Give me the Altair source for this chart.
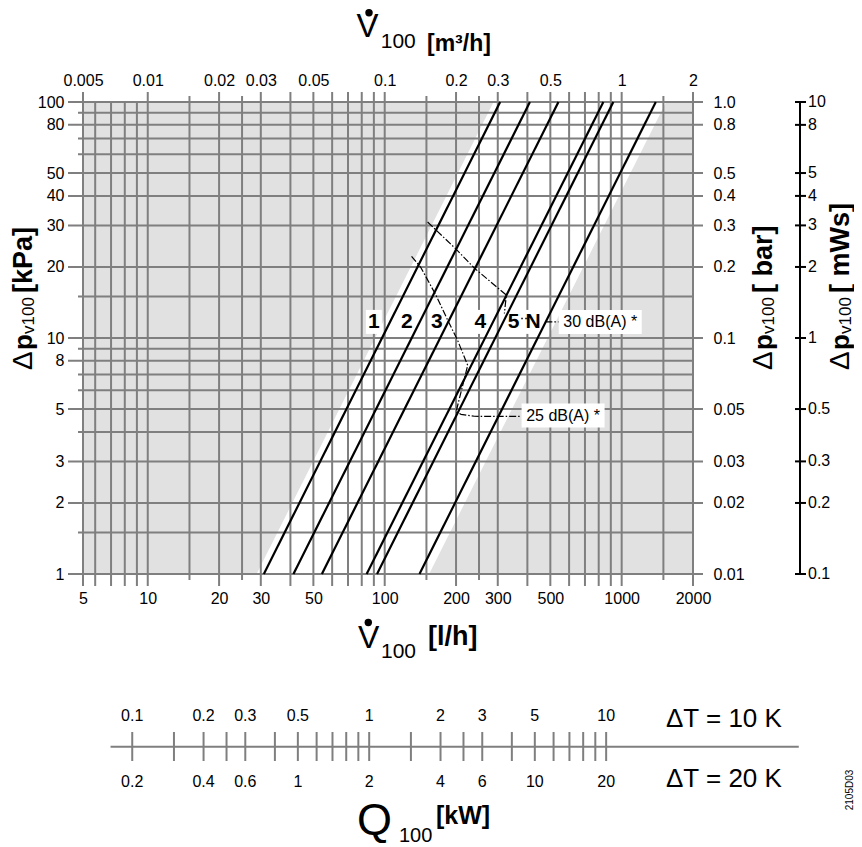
import math
import altair as alt
import pandas as pd

# ------------------------------------------------------------------ data
X_MIN, X_MAX = 5.33, 2000          # flow axis range in l/h (left edge of the grid)
Y_MIN, Y_MAX = 1, 100              # pressure axis range in kPa
X_GRID = [X_MIN, 6, 7, 8, 9, 10, 15, 20, 25, 30, 40, 50, 60, 70, 80, 90, 100,
          150, 200, 250, 300, 400, 500, 600, 700, 800, 900, 1000, 1500, 2000]
Y_GRID = [1, 1.5, 2, 3, 4, 5, 6, 7, 8, 9, 10, 15, 20, 30, 40, 50, 60, 70, 80, 90, 100]
X_LABELS = [X_MIN, 10, 20, 30, 50, 100, 200, 300, 500, 1000, 2000]
Y_LABELS_KPA = [1, 2, 3, 5, 8, 10, 20, 30, 40, 50, 80, 100]
Y_LABELS_BAR = [1, 2, 3, 5, 10, 20, 30, 40, 50, 80, 100]
MWS_TICKS = [0.1, 0.2, 0.3, 0.5, 1, 2, 3, 4, 5, 8, 10]

LINE_NAMES = ["1", "2", "3", "4", "5", "N"]
V_AT_1KPA = [30.9, 41.2, 54.3, 83.9, 92.8, 140.2]
V_AT_100KPA = [307, 410, 541, 837, 922, 1393]
LABEL_V = [90, 124, 166, 253, 350, 423]
LABEL_DP = [11.7, 11.7, 11.7, 11.7, 11.7, 11.7]

BAND_DP = [1, 100]
BAND_LEFT_V = [28.8, 288]
BAND_RIGHT_V = [154, 1540]

NOISE30_V = [151.7, 200, 240, 326, 320]
NOISE30_DP = [31.0, 23.8, 19.7, 15.2, 12.7]
NOISE25_V = [129.8, 142, 164.5, 184.4, 203, 224, 200, 210, 239, 377]
NOISE25_DP = [22.2, 19.9, 15.2, 11.9, 9.78, 7.66, 4.86, 4.75, 4.66, 4.65]
LEADER_DOT_V = [377, 400]
LEADER_DOT_DP = [12.1, 12.1]
LEADER_DASH_V = [481, 541]
LEADER_DASH_DP = [11.7, 11.7]

DB_TEXT = ["30 dB(A) *", "25 dB(A) *"]
DB_V = [812, 566]
DB_DP = [11.7, 4.69]

Q10_TICKS = [0.1, 0.15, 0.2, 0.25, 0.3, 0.4, 0.5, 0.6, 0.7, 0.8, 0.9, 1,
             1.5, 2, 2.5, 3, 4, 5, 6, 7, 8, 9, 10]
Q10_LABELS = [0.1, 0.2, 0.3, 0.5, 1, 2, 3, 5, 10]
Q20_LABELS = [0.2, 0.4, 0.6, 1, 2, 4, 6, 10, 20]
Q_LINE = [0.081, 65]
LH_PER_KW_10K = 86   # l/h of water per kW at dT = 10 K
LH_PER_KW_20K = 43   # l/h of water per kW at dT = 20 K

# ------------------------------------------------------------------ layout / style
FONT = "Liberation Sans"
GRID = "#7f7f7f"
BG = "#e1e1e1"
W, H = 610, 472
PAD_L, PAD_T = 75, 94
OX, OY = 8 + PAD_L, 8 + PAD_T


def px(xp):
    return xp - OX


def py(yp):
    return yp - OY


xs = alt.Scale(type="log", domain=[X_MIN, X_MAX], nice=False)
ys = alt.Scale(type="log", domain=[Y_MIN, Y_MAX], nice=False)


def X(f, axis=None):
    return alt.X(f, scale=xs, axis=axis)


def Y(f, axis=None):
    return alt.Y(f, scale=ys, axis=axis)


one = pd.DataFrame({"a": [0]})
layers = []

# background and white operating band
layers.append(alt.Chart(pd.DataFrame({"x0": [X_MIN], "x1": [X_MAX], "y0": [Y_MIN], "y1": [Y_MAX]}))
              .mark_rect(color=BG).encode(x=X("x0:Q"), x2="x1:Q", y=Y("y0:Q"), y2="y1:Q"))
layers.append(alt.Chart(pd.DataFrame({"p": BAND_DP, "vl": BAND_LEFT_V, "vr": BAND_RIGHT_V}))
              .mark_area(color="white", orient="horizontal", opacity=1)
              .encode(y=Y("p:Q"), x=X("vl:Q"), x2="vr:Q"))


def mant(v):
    return round(v / 10 ** math.floor(math.log10(v)), 3)


# vertical grid lines (extend past the frame as ticks)
half = [v for v in X_GRID if mant(v) in (1.5, 2.5)]
small = [v for v in X_GRID if 6 <= v < 10]
major = [v for v in X_GRID if v not in half and v not in small]
for vals, top, bot in ((major, 10, 12), (half, 6, 6), (small, 0, 12)):
    layers.append(alt.Chart(pd.DataFrame({"v": vals}))
                  .mark_rule(color=GRID, strokeWidth=2, clip=False)
                  .encode(x=X("v:Q"), y=alt.value(-top), y2=alt.value(H + bot)))

# horizontal grid lines
both = [v for v in Y_GRID if v in Y_LABELS_KPA and v in Y_LABELS_BAR]
lonly = [v for v in Y_GRID if v in Y_LABELS_KPA and v not in Y_LABELS_BAR]
none = [v for v in Y_GRID if v not in Y_LABELS_KPA and v not in Y_LABELS_BAR]
for vals, left, right in ((both, 15, 10), (lonly, 15, 0), (none, 5, 0)):
    layers.append(alt.Chart(pd.DataFrame({"p": vals}))
                  .mark_rule(color=GRID, strokeWidth=2, clip=False)
                  .encode(y=Y("p:Q"), x=alt.value(-left), x2=alt.value(W + right)))

# label boxes
lab_df = pd.DataFrame({"name": LINE_NAMES, "v": LABEL_V, "p": LABEL_DP})
layers.append(alt.Chart(lab_df).mark_rect(color="white", width=16, height=24)
              .encode(x=X("v:Q"), y=Y("p:Q")))
db_df = pd.DataFrame({"t": DB_TEXT, "v": DB_V, "p": DB_DP})
layers.append(alt.Chart(db_df).mark_rect(color="white", width=83, height=24)
              .encode(x=X("v:Q"), y=Y("p:Q")))

# valve characteristic lines
lines_df = pd.DataFrame({"name": LINE_NAMES * 2, "v": V_AT_1KPA + V_AT_100KPA,
                         "p": [Y_MIN] * 6 + [Y_MAX] * 6})
layers.append(alt.Chart(lines_df).mark_line(color="black", strokeWidth=2.2)
              .encode(x=X("v:Q"), y=Y("p:Q"), detail="name:N"))

# noise limit curves
n_df = pd.DataFrame({"curve": ["30"] * len(NOISE30_V) + ["25"] * len(NOISE25_V),
                     "i": list(range(len(NOISE30_V))) + list(range(len(NOISE25_V))),
                     "v": NOISE30_V + NOISE25_V, "p": NOISE30_DP + NOISE25_DP})
layers.append(alt.Chart(n_df).mark_line(color="black", strokeWidth=1.2, strokeDash=[7, 2, 1.5, 2])
              .encode(x=X("v:Q"), y=Y("p:Q"), detail="curve:N", order="i:Q"))
layers.append(alt.Chart(pd.DataFrame({"v": LEADER_DOT_V, "p": LEADER_DOT_DP}))
              .mark_line(color="black", strokeWidth=1.4, strokeDash=[1.5, 2.5])
              .encode(x=X("v:Q"), y=Y("p:Q")))
layers.append(alt.Chart(pd.DataFrame({"v": LEADER_DASH_V, "p": LEADER_DASH_DP}))
              .mark_line(color="black", strokeWidth=1.2, strokeDash=[6, 2, 1.5, 2])
              .encode(x=X("v:Q"), y=Y("p:Q")))

# texts inside the plot
layers.append(alt.Chart(lab_df).mark_text(fontSize=21, fontWeight="bold", font=FONT, color="black",
                                          align="center", baseline="middle")
              .encode(x=X("v:Q"), y=Y("p:Q"), text="name:N"))
layers.append(alt.Chart(db_df).mark_text(fontSize=16, font=FONT, color="black",
                                         align="center", baseline="middle")
              .encode(x=X("v:Q"), y=Y("p:Q"), text="t:N"))

# axes (labels only; ticks are the extended grid lines)
common = dict(ticks=False, tickSize=0, domain=False, grid=False, labelFontSize=16, labelFont=FONT,
              labelColor="black", labelOverlap=False, labelFlush=False, title=None)
ax_bottom = alt.Axis(orient="bottom", values=X_LABELS, labelPadding=29, labelBaseline="alphabetic",
                     labelExpr="datum.value < 6 ? '5' : format(datum.value, '')", **common)
ax_top = alt.Axis(orient="top", values=X_LABELS, labelPadding=17, labelBaseline="alphabetic",
                  labelExpr="datum.value < 6 ? '0.005' : format(datum.value / 1000, '')", **common)
ax_left = alt.Axis(orient="left", values=Y_LABELS_KPA, labelPadding=19, labelBaseline="middle",
                   labelExpr="format(datum.value, '')", **common)
ax_right = alt.Axis(orient="right", values=Y_LABELS_BAR, labelPadding=20, labelBaseline="middle",
                    labelExpr="datum.value == 100 ? '1.0' : format(datum.value / 100, '')", **common)
xl = pd.DataFrame({"v": X_LABELS})
layers.append(alt.Chart(xl).mark_point(opacity=0).encode(x=X("v:Q", ax_bottom), y=alt.value(0)))
layers.append(alt.Chart(xl).mark_point(opacity=0).encode(x=X("v:Q", ax_top), y=alt.value(0)))
layers.append(alt.Chart(pd.DataFrame({"p": Y_LABELS_KPA})).mark_point(opacity=0)
              .encode(y=Y("p:Q", ax_left), x=alt.value(0)))
layers.append(alt.Chart(pd.DataFrame({"p": Y_LABELS_BAR})).mark_point(opacity=0)
              .encode(y=Y("p:Q", ax_right), x=alt.value(0)))

# mWs scale (1 mWs ~ 10 kPa)
mws_df = pd.DataFrame({"p": [m * 10 for m in MWS_TICKS], "t": [f"{m:g}" for m in MWS_TICKS]})
layers.append(alt.Chart(pd.DataFrame({"p0": [Y_MIN], "p1": [Y_MAX]}))
              .mark_rule(color="black", strokeWidth=2, clip=False)
              .encode(y=Y("p0:Q"), y2="p1:Q", x=alt.value(px(800))))
layers.append(alt.Chart(mws_df).mark_rule(color="black", strokeWidth=2, clip=False)
              .encode(y=Y("p:Q"), x=alt.value(px(795)), x2=alt.value(px(806))))
layers.append(alt.Chart(mws_df).mark_text(fontSize=16, font=FONT, color="black", align="left",
                                          baseline="middle", clip=False)
              .encode(y=Y("p:Q"), x=alt.value(px(808)), text="t:N"))

# heat output scale Q100
q_line = pd.DataFrame({"v0": [Q_LINE[0] * LH_PER_KW_10K], "v1": [Q_LINE[1] * LH_PER_KW_10K]})
layers.append(alt.Chart(q_line).mark_rule(color=GRID, strokeWidth=2, clip=False)
              .encode(x=X("v0:Q"), x2="v1:Q", y=alt.value(py(746.7))))
layers.append(alt.Chart(pd.DataFrame({"v": [q * LH_PER_KW_10K for q in Q10_TICKS]}))
              .mark_rule(color=GRID, strokeWidth=2, clip=False)
              .encode(x=X("v:Q"), y=alt.value(py(732)), y2=alt.value(py(761))))
layers.append(alt.Chart(pd.DataFrame({"v": [q * LH_PER_KW_10K for q in Q10_LABELS],
                                      "t": [f"{q:g}" for q in Q10_LABELS]}))
              .mark_text(fontSize=16, font=FONT, color="black", align="center", baseline="alphabetic", clip=False)
              .encode(x=X("v:Q"), y=alt.value(py(720.7)), text="t:N"))
layers.append(alt.Chart(pd.DataFrame({"v": [q * LH_PER_KW_20K for q in Q20_LABELS],
                                      "t": [f"{q:g}" for q in Q20_LABELS]}))
              .mark_text(fontSize=16, font=FONT, color="black", align="center", baseline="alphabetic", clip=False)
              .encode(x=X("v:Q"), y=alt.value(py(786.7)), text="t:N"))


def txt(s, x, y, size, bold=False, angle=0, align="left"):
    return (alt.Chart(one)
            .mark_text(text=s, fontSize=size, fontWeight="bold" if bold else "normal", font=FONT,
                       color="black", align=align, baseline="alphabetic", angle=angle, clip=False)
            .encode(x=alt.value(px(x)), y=alt.value(py(y))))


def dot(x, y):
    return (alt.Chart(one).mark_point(filled=True, shape="circle", size=55, color="black", opacity=1, clip=False)
            .encode(x=alt.value(px(x)), y=alt.value(py(y))))


# top title  V100 [m3/h]
layers += [txt("V", 356.5, 37, 33), dot(369, 12.7), txt("100", 380.7, 48.3, 21),
           txt("[m³/h]", 427, 51, 23, bold=True)]
# bottom title  V100 [l/h]
layers += [txt("V", 358, 648, 32), dot(368.3, 622.5), txt("100", 381, 658, 21),
           txt("[l/h]", 428, 645, 27, bold=True)]
# Q100 [kW]
layers += [txt("Q", 357, 835, 45), txt("100", 399, 842, 20), txt("[kW]", 436, 824, 25, bold=True)]
layers += [txt("ΔT = 10 K", 666, 727, 26), txt("ΔT = 20 K", 666, 786.7, 26)]
layers += [txt("2105D03", 853, 790, 10, angle=270, align="center")]

# rotated pressure titles
for base_x, unit in ((31.7, "[kPa]"), (771.7, "[ bar]"), (849, "[ mWs]")):
    layers += [txt("Δ", base_x, 370, 28, angle=270),
               txt("p", base_x, 350, 26, bold=True, angle=270),
               txt("v100", base_x + 2.3, 334, 17, angle=270),
               txt(unit, base_x, 293, 27, bold=True, angle=270)]

PAD_R = 846 - PAD_L - W
PAD_B = 839 - PAD_T - H

chart = (alt.layer(*layers)
         .properties(width=W, height=H,
                     padding={"left": PAD_L, "top": PAD_T, "right": PAD_R, "bottom": PAD_B},
                     autosize=alt.AutoSizeParams(type="none"))
         .resolve_axis(x="independent", y="independent")
         .configure_view(stroke=None)
         .configure(font=FONT))

chart.save("out.html", embed_options={"renderer": "svg", "actions": False})
